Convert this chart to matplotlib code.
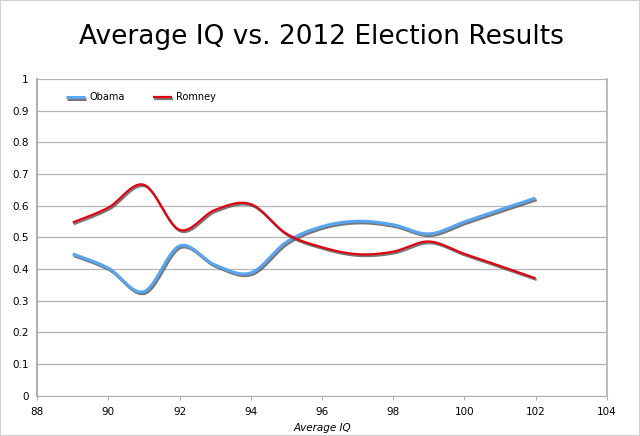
import numpy as np
import matplotlib.pyplot as plt
import matplotlib.patheffects as pe

iq = [89, 90, 91, 92, 93, 94, 95, 96, 97, 98, 99, 100, 101, 102]
obama = [0.448, 0.403, 0.329, 0.473, 0.413, 0.388, 0.485, 0.534, 0.551, 0.540, 0.511, 0.549, 0.587, 0.624]
romney = [0.547, 0.594, 0.666, 0.524, 0.587, 0.605, 0.512, 0.469, 0.447, 0.455, 0.487, 0.448, 0.410, 0.371]


def smooth(x, y, n=30, t=1/6):
    # excel-style smoothed line: cubic bezier through points, catmull-rom handles
    x = np.asarray(x, float)
    y = np.asarray(y, float)
    px = np.concatenate([[x[0]], x, [x[-1]]])
    py = np.concatenate([[y[0]], y, [y[-1]]])
    xs, ys = [], []
    s = np.linspace(0, 1, n)
    for i in range(1, len(px) - 2):
        p0 = np.array([px[i], py[i]])
        p3 = np.array([px[i + 1], py[i + 1]])
        p1 = p0 + t * (np.array([px[i + 1], py[i + 1]]) - np.array([px[i - 1], py[i - 1]]))
        p2 = p3 - t * (np.array([px[i + 2], py[i + 2]]) - np.array([px[i], py[i]]))
        b = ((1 - s) ** 3)[:, None] * p0 + (3 * (1 - s) ** 2 * s)[:, None] * p1 \
            + (3 * (1 - s) * s ** 2)[:, None] * p2 + (s ** 3)[:, None] * p3
        xs.extend(b[:, 0])
        ys.extend(b[:, 1])
    return xs, ys


fig = plt.figure(figsize=(6.4, 4.36), dpi=100)
ax = fig.add_axes([0.058, 0.092, 0.89, 0.727])

shadow = [pe.SimpleLineShadow(offset=(0.8, -1.2), shadow_color='#555555', alpha=0.8), pe.Normal()]
ox, oy = smooth(iq, obama)
rx, ry = smooth(iq, romney)
ax.plot(ox, oy, color='#5aa5ef', lw=2.2, label='Obama', path_effects=shadow, solid_capstyle='butt')
ax.plot(rx, ry, color='#e0000f', lw=1.6, label='Romney', path_effects=shadow, solid_capstyle='butt')

ax.set_xlim(88, 104)
ax.set_ylim(0, 1)
ax.set_xticks(np.arange(88, 105, 2))
ax.set_yticks(np.arange(0, 1.01, 0.1))
ax.set_yticklabels(['0', '0.1', '0.2', '0.3', '0.4', '0.5', '0.6', '0.7', '0.8', '0.9', '1'])
ax.yaxis.grid(True, color='#b4b4b4', lw=0.9)
ax.set_axisbelow(True)
ax.spines['top'].set_visible(False)
ax.spines['left'].set_color('#b0b0b0')
ax.spines['left'].set_linewidth(1.5)
ax.spines['bottom'].set_color('#b0b0b0')
ax.spines['right'].set_color('#b0b0b0')
ax.spines['right'].set_linewidth(1.2)
ax.tick_params(axis='x', length=3, color='#b0b0b0', labelsize=7.5, pad=5)
ax.tick_params(axis='y', length=0, labelsize=7.5, pad=6)
ax.set_xlabel('Average IQ', fontsize=7.5, style='italic', labelpad=4)

ax.legend(loc='upper left', ncol=2, frameon=False, fontsize=7, handlelength=2.0,
          handletextpad=0.4, columnspacing=2.9, bbox_to_anchor=(0.035, 0.985))

fig.text(0.503, 0.915, 'Average IQ vs. 2012 Election Results', ha='center', va='center', fontsize=19)
fig.patches.append(plt.Rectangle((0, 0), 1, 1, transform=fig.transFigure, fill=False,
                                 edgecolor='#d0d0d0', lw=1.5))

fig.savefig('out.png', dpi=100)
